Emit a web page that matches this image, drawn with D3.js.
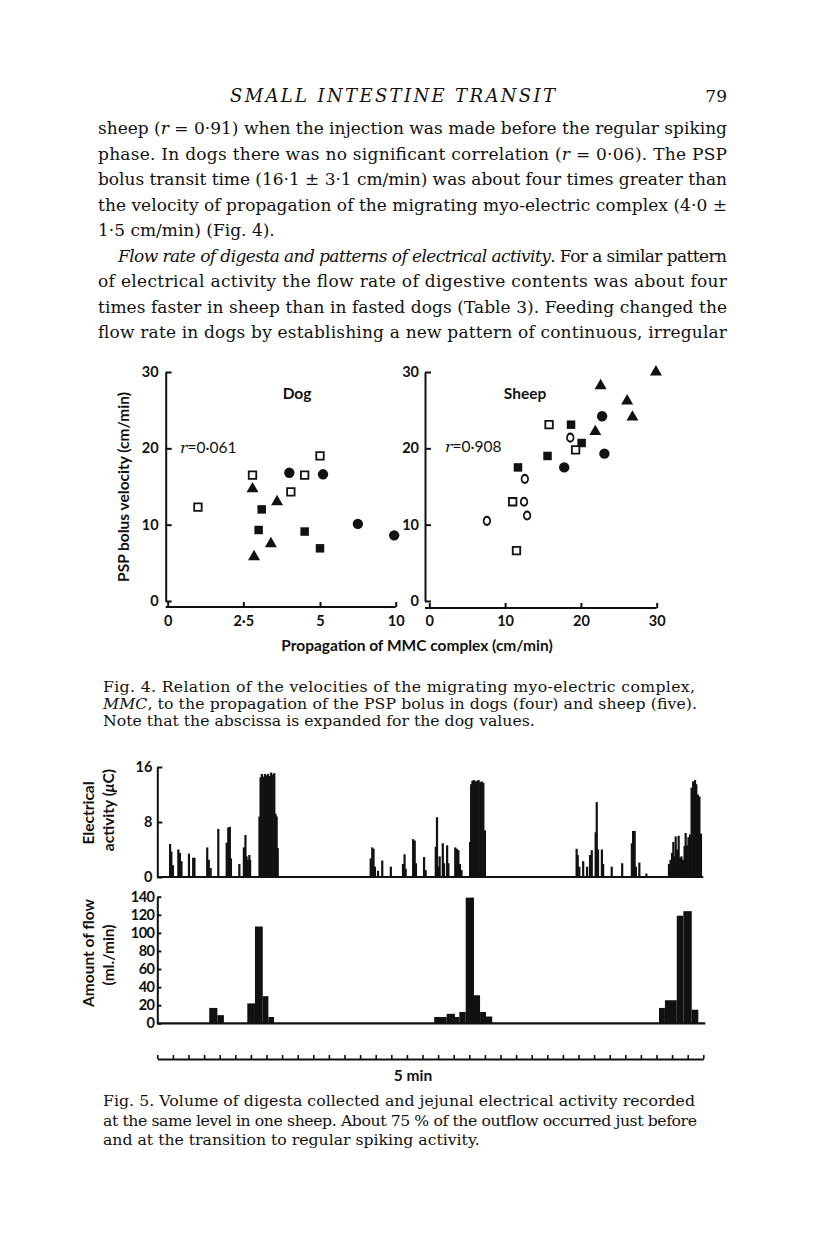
<!DOCTYPE html>
<html><head><meta charset="utf-8">
<script src="https://cdn.jsdelivr.net/npm/d3@7"></script>
<style>body{margin:0;background:#fff} svg{display:block}</style>
</head><body>
<script>
// ---------- Fig. 4 data ----------
const dogX     = [1.0, 2.8, 2.8, 4.0, 4.5, 5.2, 5.0, 4.05, 3.6, 3.1, 3.0, 3.4, 2.85, 4.5, 5.0, 7.5, 9.9];
const dogY     = [12.3,16.5,14.7,16.8,16.5,16.6,19.0,14.3,13.0,12.0, 9.3, 7.5, 5.8, 9.1, 6.9,10.1, 8.6];
const dogShape = ["os","os","ft","fc","os","fc","os","os","ft","fs","fs","ft","ft","fs","fs","fc","fc"];
const sheepX     = [29.9,22.6,26.1,26.8,22.8,21.9,15.8,18.7,18.6,20.1,19.3,23.1,15.6,17.8,11.7,12.6,11.0,12.5,12.9, 7.6,11.5];
const sheepY     = [30.0,28.2,26.2,24.1,24.2,22.2,23.1,23.1,21.4,20.7,19.8,19.3,19.0,17.5,17.5,16.0,13.0,13.0,11.2,10.5, 6.6];
const sheepShape = ["ft","ft","ft","ft","fc","ft","os","fs","oc","fs","os","fc","fs","fc","fs","oc","os","oc","oc","oc","os"];
const dogXTicks = [0, 2.5, 5, 10];
const dogXTickLabels = ["0", "2·5", "5", "10"];
const sheepXTicks = [0, 10, 20, 30];
const yTicks4 = [0, 10, 20, 30];

// ---------- Fig. 5 data ----------
const elecT = [0.82,0.9,1.0, 1.35,1.45,1.55, 2.03,2.3,2.38, 3.2,3.3,3.42, 3.91, 4.45,4.55,4.65,4.72, 5.26,
  5.55,5.65,5.72,5.8,5.9,5.95,
  6.55,6.62,6.7,6.8,6.9,7.0,7.1,7.2,7.3,7.4,7.5,7.58,7.65,7.72,
  13.68,13.78,13.86,13.95, 14.15,14.42, 14.97, 15.75,15.85,15.92, 16.4,16.5,16.58, 17.1,17.2,
  17.85,17.93,18.02,18.1, 18.3,18.38, 18.58,18.66, 19.1,19.2,19.3,19.4,19.5,
  20.05,20.12,20.2,20.3,20.4,20.5,20.6,20.7,20.8,20.9,21.0,
  26.88,26.95,27.05, 27.3, 27.55,27.74,27.85, 28.1,28.17,28.25, 28.5,28.58, 29.13, 29.8,
  30.42,30.5,30.6,30.68, 30.9, 31.35,
  32.8,32.9,33.0,33.08,33.15,33.23,33.32,33.42,33.5,33.6,33.7,33.8,33.87,33.95,34.05,34.15,
  34.25,34.35,34.47,34.55,34.65,34.75,34.85];
const elecV = [4.8,3.7,1.7, 4.0,3.5,2.3, 3.4,2.8,2.8, 4.3,2.5,1.3, 7.0, 5.0,7.2,7.3,2.7, 1.9,
  4.3,6.1,3.0,2.5,3.2,2.5,
  8.8,14.5,15.0,14.6,15.0,14.8,15.0,14.7,15.2,14.9,15.1,9.2,8.8,4.2,
  2.7,4.3,4.1,1.5, 0.9,2.4, 1.5, 1.9,3.3,1.2, 5.5,5.3,2.0, 2.9,1.0,
  4.4,8.7,1.5,3.0, 4.9,2.0, 4.6,2.0, 4.3,4.1,3.9,1.9,1.0,
  5.1,13.5,14.0,14.1,13.9,14.0,14.1,13.8,13.9,13.7,6.8,
  4.1,3.2,1.5, 2.3, 1.5,3.2,3.9, 6.5,10.9,4.0, 4.0,1.9, 1.5, 2.0,
  4.9,6.7,6.7,1.5, 2.1, 0.5,
  1.9,2.5,3.5,5.1,3.0,5.9,4.0,6.0,2.8,3.0,2.5,4.5,6.4,4.6,5.8,6.2,
  13.0,13.9,14.1,13.5,12.0,11.7,6.3];
const flowStart = [3.33,3.85,5.77,6.26,6.76,7.12,17.75,18.55,19.08,19.36,19.77,20.3,20.69,21.07,32.16,32.54,33.3,33.72,34.26];
const flowEnd   = [3.85,4.27,6.26,6.76,7.12,7.48,18.55,19.08,19.36,19.77,20.3,20.69,21.07,21.47,32.54,33.3,33.72,34.26,34.68];
const flowValue = [17,9,22,107,30,7,7,10.5,7,12.5,139,31,12.5,7.5,17,25.5,119,124,15];
const elecTicks = [0, 8, 16];
const flowTicks = [0, 20, 40, 60, 80, 100, 120, 140];
const rulerTicks = d3.range(0, 36);

// ---------- text ----------
const bodyLines = [
  {x:98, len:629, parts:[["sheep ("],["r","i"],[" = 0·91) when the injection was made before the regular spiking"]]},
  {x:98, len:629, parts:[["phase. In dogs there was no significant correlation ("],["r","i"],[" = 0·06). The PSP"]]},
  {x:98, len:629, parts:[["bolus transit time (16·1 ± 3·1 cm/min) was about four times greater than"]]},
  {x:98, len:629, parts:[["the velocity of propagation of the migrating myo-electric complex (4·0 ±"]]},
  {x:98, len:0,   parts:[["1·5 cm/min) (Fig. 4)."]]},
  {x:118, len:609, parts:[["Flow rate of digesta and patterns of electrical activity","i"],[". For a similar pattern"]]},
  {x:98, len:629, parts:[["of electrical activity the flow rate of digestive contents was about four"]]},
  {x:98, len:629, parts:[["times faster in sheep than in fasted dogs (Table 3). Feeding changed the"]]},
  {x:98, len:629, parts:[["flow rate in dogs by establishing a new pattern of continuous, irregular"]]}
];
const cap4 = [
  {len:592, parts:[["Fig. 4. Relation of the velocities of the migrating myo-electric complex,"]]},
  {len:594, parts:[["MMC","i"],[", to the propagation of the PSP bolus in dogs (four) and sheep (five)."]]},
  {len:0, parts:[["Note that the abscissa is expanded for the dog values."]]}
];
const cap5 = [
  {len:592, parts:[["Fig. 5. Volume of digesta collected and jejunal electrical activity recorded"]]},
  {len:594, parts:[["at the same level in one sheep. About 75 % of the outflow occurred just before"]]},
  {len:0, parts:[["and at the transition to regular spiking activity."]]}
];

const W = 816, H = 1252;
const svg = d3.select("body").append("svg").attr("width", W).attr("height", H);
svg.append("rect").attr("width", W).attr("height", H).attr("fill", "#fff");

const serif = "'DejaVu Serif', serif";
const sans = "Lato, 'Open Sans', sans-serif";

function writeLine(g, x, y, line, size) {
  const t = g.append("text").attr("x", x).attr("y", y)
    .attr("font-family", serif).attr("font-size", size).attr("fill", "#111");
  if (line.len) t.attr("textLength", line.len).attr("lengthAdjust", "spacing");
  line.parts.forEach(p => {
    const ts = t.append("tspan").text(p[0]);
    if (p[1] === "i") ts.attr("font-style", "italic");
  });
}

// header
svg.append("text").attr("x", 230).attr("y", 102).attr("font-family", serif)
  .attr("font-style", "italic").attr("font-size", 18).attr("fill", "#111")
  .attr("textLength", 325).attr("lengthAdjust", "spacing").text("SMALL INTESTINE TRANSIT");
svg.append("text").attr("x", 727).attr("y", 102).attr("text-anchor", "end").attr("font-family", serif)
  .attr("font-size", 17).attr("fill", "#111").text("79");

const body = svg.append("g");
bodyLines.forEach((l, i) => writeLine(body, l.x, 134 + i * 25.5, l, 17));

// ---------- Fig. 4 ----------
const f4 = svg.append("g").attr("font-family", sans).attr("font-weight", 700).attr("fill", "#111");
const y4 = d3.scaleLinear().domain([0, 30]).range([601, 372]);
const xDog = d3.scaleLinear().domain([0, 2.5, 5, 10]).range([167.7, 243.3, 320, 395.7]);
const xSheep = d3.scaleLinear().domain([0, 30]).range([429.3, 656.7]);

function styleAxis(g, fs) {
  g.selectAll("path.domain").attr("stroke", "#111").attr("stroke-width", 2);
  g.selectAll(".tick line").attr("stroke", "#111").attr("stroke-width", 2);
  g.selectAll(".tick text").attr("font-family", sans).attr("font-weight", 700)
    .attr("font-size", fs).attr("fill", "#111");
}

const gyDog = f4.append("g").attr("transform", "translate(165.7,0)")
  .call(d3.axisLeft(y4).tickValues(yTicks4).tickSize(-6).tickSizeOuter(0).tickPadding(7));
styleAxis(gyDog, 14.5);
const gxDog = f4.append("g").attr("transform", "translate(0,607)")
  .call(d3.axisBottom(xDog).tickValues(dogXTicks).tickFormat((d, i) => dogXTickLabels[i]).tickSize(-5).tickSizeOuter(0).tickPadding(9));
styleAxis(gxDog, 14.5);
gxDog.select("path.domain").attr("d", `M165.7,0H${xDog(10)}`);

const gySheep = f4.append("g").attr("transform", "translate(425,0)")
  .call(d3.axisLeft(y4).tickValues(yTicks4).tickSize(-6).tickSizeOuter(0).tickPadding(6));
styleAxis(gySheep, 14.5);
const gxSheep = f4.append("g").attr("transform", "translate(0,608)")
  .call(d3.axisBottom(xSheep).tickValues(sheepXTicks).tickSize(-5).tickSizeOuter(0).tickPadding(8));
styleAxis(gxSheep, 14.5);
gxSheep.select("path.domain").attr("d", `M425,0H${xSheep(30)}`);

function drawPoints(g, xs, ys, shapes, xScale) {
  xs.forEach((xv, i) => {
    const s = shapes[i];
    const cx = xScale(xv), cy = y4(ys[i]);
    let type = d3.symbolSquare, size = 72, fill = "#111", stroke = "none", sw = 0;
    if (s === "os") { size = 56; fill = "#fff"; stroke = "#111"; sw = 1.8; }
    if (s === "ft") { type = d3.symbolTriangle; size = 62; }
    if (s === "fc") { type = d3.symbolCircle; size = 84; }
    if (s === "oc") { type = d3.symbolCircle; size = 42; fill = "#fff"; stroke = "#111"; sw = 1.9; }
    const p = g.append("path").attr("d", d3.symbol().type(type).size(size)())
      .attr("fill", fill).attr("stroke", stroke).attr("stroke-width", sw);
    if (s === "oc") p.attr("transform", `translate(${cx},${cy}) scale(0.9,1.1)`);
    else p.attr("transform", `translate(${cx},${cy})`);
  });
}
drawPoints(f4, dogX, dogY, dogShape, xDog);
drawPoints(f4, sheepX, sheepY, sheepShape, xSheep);

f4.append("text").attr("x", 297).attr("y", 399).attr("text-anchor", "middle").attr("font-size", 15.5).text("Dog");
f4.append("text").attr("x", 525).attr("y", 399).attr("text-anchor", "middle").attr("font-size", 15.5).text("Sheep");
const r1 = f4.append("text").attr("x", 180).attr("y", 453).attr("font-size", 15.5).attr("font-weight", 400);
r1.append("tspan").attr("font-family", serif).attr("font-style", "italic").text("r");
r1.append("tspan").text("=0·061");
const r2 = f4.append("text").attr("x", 445).attr("y", 452).attr("font-size", 15.5).attr("font-weight", 400);
r2.append("tspan").attr("font-family", serif).attr("font-style", "italic").text("r");
r2.append("tspan").text("=0·908");
f4.append("text").attr("transform", "translate(129,487) rotate(-90)").attr("text-anchor", "middle")
  .attr("font-size", 15.5).text("PSP bolus velocity (cm/min)");
f4.append("text").attr("x", 417).attr("y", 651).attr("text-anchor", "middle")
  .attr("font-size", 15.5).text("Propagation of MMC complex (cm/min)");

const c4 = svg.append("g");
cap4.forEach((l, i) => writeLine(c4, 103, 692 + i * 17, l, 15.7));

// ---------- Fig. 5 ----------
const f5 = svg.append("g");
const xT = d3.scaleLinear().domain([0, 35]).range([157.3, 703.3]);
const yE = d3.scaleLinear().domain([0, 16]).range([877, 767]);
const yF = d3.scaleLinear().domain([0, 140]).range([1023.3, 896.7]);

// electrical spikes
f5.append("g").selectAll("rect").data(elecT).join("rect")
  .attr("x", d => xT(d) - 1.1).attr("width", 2.2)
  .attr("y", (d, i) => yE(elecV[i])).attr("height", (d, i) => yE(0) - yE(elecV[i]))
  .attr("fill", "#111");
f5.append("line").attr("x1", xT(0)).attr("x2", xT(35)).attr("y1", yE(0)).attr("y2", yE(0))
  .attr("stroke", "#111").attr("stroke-width", 2.2);
const gyE = f5.append("g").attr("transform", `translate(${xT(0)},0)`)
  .call(d3.axisLeft(yE).tickValues(elecTicks).tickSize(-5).tickSizeOuter(0).tickPadding(5));
styleAxis(gyE, 14.5);

// flow bars
f5.append("g").selectAll("rect").data(flowStart).join("rect")
  .attr("x", d => xT(d)).attr("width", (d, i) => xT(flowEnd[i]) - xT(d))
  .attr("y", (d, i) => yF(flowValue[i])).attr("height", (d, i) => yF(0) - yF(flowValue[i]))
  .attr("fill", "#111");
f5.append("line").attr("x1", xT(0)).attr("x2", xT(35) + 2).attr("y1", yF(0)).attr("y2", yF(0))
  .attr("stroke", "#111").attr("stroke-width", 2.2);
const gyF = f5.append("g").attr("transform", `translate(${xT(0)},0)`)
  .call(d3.axisLeft(yF).tickValues(flowTicks).tickSize(-4).tickSizeOuter(0).tickPadding(3));
styleAxis(gyF, 14.5);
gyF.selectAll(".tick text").attr("letter-spacing", -0.6);

// ruler
const gR = f5.append("g").attr("transform", "translate(0,1059)")
  .call(d3.axisBottom(xT).tickValues(rulerTicks).tickFormat("").tickSize(-4).tickSizeOuter(0));
styleAxis(gR, 12);
gR.selectAll(".tick line").attr("stroke-width", 1.6);
f5.append("text").attr("x", 413).attr("y", 1081).attr("text-anchor", "middle")
  .attr("font-family", sans).attr("font-weight", 700).attr("font-size", 15.5).attr("fill", "#111").text("5 min");

// y labels
const lab = (x, y, t) => f5.append("text").attr("transform", `translate(${x},${y}) rotate(-90)`)
  .attr("text-anchor", "middle").attr("font-family", sans).attr("font-weight", 700).attr("font-size", 15.5).attr("fill", "#111").text(t);
lab(94, 813, "Electrical");
const a = f5.append("text").attr("transform", "translate(114,810) rotate(-90)").attr("text-anchor", "middle")
  .attr("font-family", sans).attr("font-weight", 700).attr("font-size", 15.5).attr("fill", "#111");
a.append("tspan").text("activity (");
a.append("tspan").attr("font-style", "italic").text("μ");
a.append("tspan").text("C)");
lab(94, 953, "Amount of flow");
lab(114, 955, "(ml./min)");

const c5 = svg.append("g");
cap5.forEach((l, i) => writeLine(c5, 103, 1106 + i * 19.5, l, 15.7));
</script>
</body></html>
